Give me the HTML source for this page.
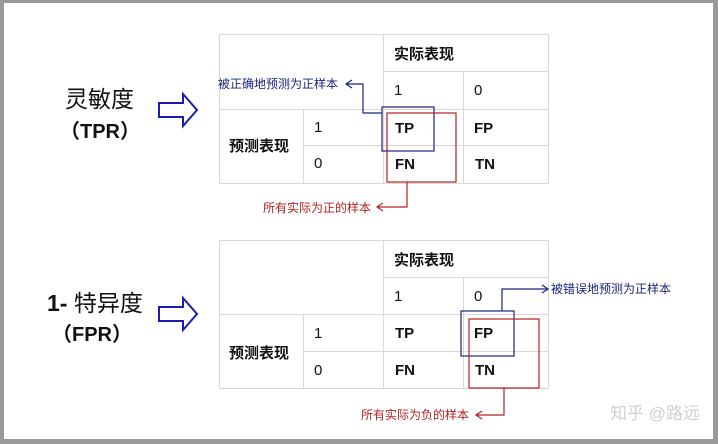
<!DOCTYPE html>
<html><head><meta charset="utf-8"><style>
body{margin:0;width:718px;height:444px;overflow:hidden;background:#fff;font-family:"Liberation Sans","Noto Sans CJK SC",sans-serif}
#f{position:absolute;left:0;top:0;width:718px;height:444px;box-sizing:border-box;border-style:solid;border-color:#9a9a9a;border-width:3px 5px 5px 4px}
</style></head><body><div id="f"></div>
<svg width="718" height="444" style="position:absolute;left:0;top:0" font-family="Liberation Sans, Noto Sans CJK SC, sans-serif">
<g stroke="#d8d8d8" stroke-width="1" fill="none">
<rect x="219.5" y="34.5" width="329" height="149"/>
<line x1="383.5" y1="34" x2="383.5" y2="183"/>
<line x1="463.5" y1="71" x2="463.5" y2="183"/>
<line x1="303.5" y1="109" x2="303.5" y2="183"/>
<line x1="383" y1="71.5" x2="548" y2="71.5"/>
<line x1="219" y1="109.5" x2="548" y2="109.5"/>
<line x1="303" y1="145.5" x2="548" y2="145.5"/>
<rect x="219.5" y="240.5" width="329" height="148"/>
<line x1="383.5" y1="240" x2="383.5" y2="388"/>
<line x1="463.5" y1="277" x2="463.5" y2="388"/>
<line x1="303.5" y1="314" x2="303.5" y2="388"/>
<line x1="383" y1="277.5" x2="548" y2="277.5"/>
<line x1="219" y1="314.5" x2="548" y2="314.5"/>
<line x1="303" y1="351.5" x2="548" y2="351.5"/>
</g>
<g fill="#111" font-size="15">
<text x="394" y="59" font-weight="bold">实际表现</text>
<text x="394" y="95">1</text><text x="474" y="95">0</text>
<text x="229" y="151" font-weight="bold">预测表现</text>
<text x="314" y="132">1</text><text x="314" y="168">0</text>
<g font-weight="bold"><text x="395" y="133">TP</text><text x="474" y="133">FP</text><text x="395" y="169">FN</text><text x="475" y="169">TN</text></g>
<text x="394" y="265" font-weight="bold">实际表现</text>
<text x="394" y="301">1</text><text x="474" y="301">0</text>
<text x="229" y="358" font-weight="bold">预测表现</text>
<text x="314" y="338">1</text><text x="314" y="375">0</text>
<g font-weight="bold"><text x="395" y="338">TP</text><text x="474" y="338">FP</text><text x="395" y="375">FN</text><text x="475" y="375">TN</text></g>
</g>
<g fill="none" stroke-width="1.2">
<rect x="382" y="107" width="52" height="44" stroke="#1a237e"/>
<rect x="387" y="113" width="69" height="69" stroke="#b22222"/>
<polyline points="382,113 363,113 363,84 346,84" stroke="#1a237e"/>
<polyline points="352,80 346,84 352,88" stroke="#1a237e"/>
<polyline points="407,182 407,207 377,207" stroke="#b22222"/>
<polyline points="383,203 377,207 383,211" stroke="#b22222"/>
<rect x="461" y="311" width="53" height="45" stroke="#1a237e"/>
<rect x="469" y="319" width="70" height="69" stroke="#b22222"/>
<polyline points="502,311 502,289 548,289" stroke="#1a237e"/>
<polyline points="542,285 548,289 542,293" stroke="#1a237e"/>
<polyline points="504,388 504,415 476,415" stroke="#b22222"/>
<polyline points="482,411 476,415 482,419" stroke="#b22222"/>
</g>
<text x="218" y="88" font-size="12" fill="#1a237e">被正确地预测为正样本</text>
<text x="263" y="212" font-size="12" fill="#b22222">所有实际为正的样本</text>
<text x="551" y="293" font-size="12" fill="#1a237e">被错误地预测为正样本</text>
<text x="361" y="419" font-size="12" fill="#b22222">所有实际为负的样本</text>
<g fill="#111">
<text x="65" y="107" font-size="23">灵敏度</text>
<text x="60" y="138" font-size="20" font-weight="bold">（TPR）</text>
<text x="47" y="311" font-size="23" font-weight="bold">1- <tspan font-weight="normal">特异度</tspan></text>
<text x="52" y="341" font-size="20" font-weight="bold">（FPR）</text>
</g>
<g fill="#fff" stroke="#1c1cb0" stroke-width="2">
<polygon points="159,103 183,103 183,94 197,110 183,126 183,117 159,117"/>
<polygon points="159,307 183,307 183,298 197,314 183,330 183,321 159,321"/>
</g>
<text x="610" y="419" font-size="17" fill="#d0d0d0">知乎 @路远</text>
</svg>
</body></html>
